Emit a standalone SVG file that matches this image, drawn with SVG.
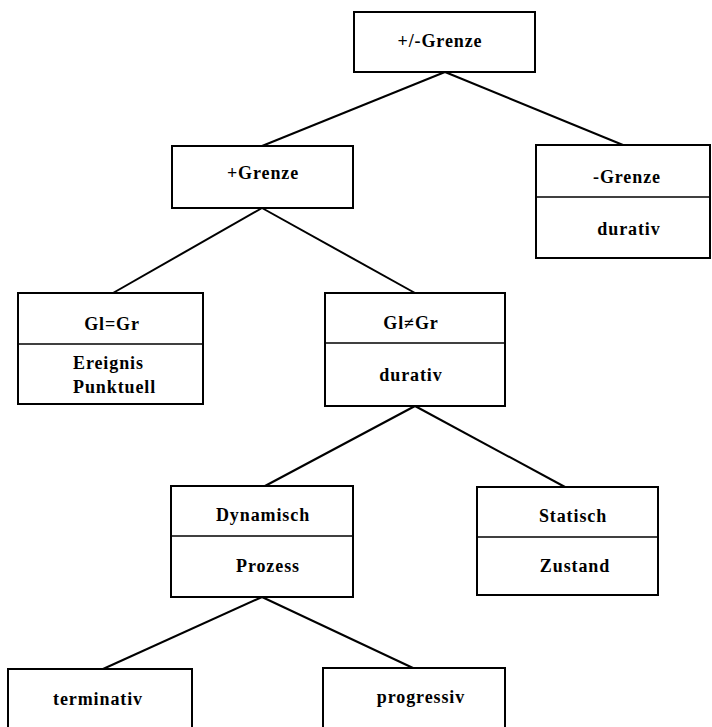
<svg xmlns="http://www.w3.org/2000/svg" width="712" height="727" viewBox="0 0 712 727">
<style>
.box{fill:#fff;stroke:#000;stroke-width:2}
.sep{stroke:#000;stroke-width:1.6}
.edge{stroke:#000;stroke-width:2;fill:none}
text{font-family:"Liberation Serif","Times New Roman",serif;font-weight:bold;font-size:18px;letter-spacing:0.9px;fill:#000}
.c{text-anchor:middle}
</style>
<rect width="712" height="727" fill="#fff"/>
<g id="connectors">
<line class="edge" x1="445" y1="72" x2="262" y2="146"/>
<line class="edge" x1="445" y1="72" x2="623" y2="145"/>
<line class="edge" x1="262" y1="208" x2="113" y2="293"/>
<line class="edge" x1="262" y1="208" x2="415" y2="293"/>
<line class="edge" x1="415" y1="406" x2="265" y2="486"/>
<line class="edge" x1="415" y1="406" x2="565" y2="487"/>
<line class="edge" x1="262" y1="597" x2="103" y2="669"/>
<line class="edge" x1="262" y1="597" x2="413" y2="668"/>
</g>
<g id="n_root">
<rect class="box" x="354" y="12" width="181" height="60"/>
<text class="c" x="440" y="47">+/-Grenze</text>
</g>
<g id="n_plus">
<rect class="box" x="172" y="146" width="181" height="62"/>
<text class="c" x="263" y="179">+Grenze</text>
</g>
<g id="n_minus">
<rect class="box" x="536" y="145" width="174" height="113"/>
<line class="sep" x1="536" y1="197" x2="710" y2="197"/>
<text class="c" x="627" y="183">-Grenze</text>
<text class="c" x="629" y="235">durativ</text>
</g>
<g id="n_gleq">
<rect class="box" x="18" y="293" width="185" height="111"/>
<line class="sep" x1="18" y1="344" x2="203" y2="344"/>
<text class="c" x="112" y="330">Gl=Gr</text>
<text x="73" y="369">Ereignis</text>
<text x="73" y="393">Punktuell</text>
</g>
<g id="n_glneq">
<rect class="box" x="325" y="293" width="180" height="113"/>
<line class="sep" x1="325" y1="343" x2="505" y2="343"/>
<text class="c" x="411" y="329">Gl≠Gr</text>
<text class="c" x="411" y="381">durativ</text>
</g>
<g id="n_dyn">
<rect class="box" x="171" y="486" width="182" height="111"/>
<line class="sep" x1="171" y1="536" x2="353" y2="536"/>
<text class="c" x="263" y="521">Dynamisch</text>
<text class="c" x="268" y="572">Prozess</text>
</g>
<g id="n_stat">
<rect class="box" x="477" y="487" width="181" height="108"/>
<line class="sep" x1="477" y1="537" x2="658" y2="537"/>
<text class="c" x="573" y="522">Statisch</text>
<text class="c" x="575" y="572">Zustand</text>
</g>
<g id="n_term">
<rect class="box" x="8" y="669" width="184" height="80"/>
<text class="c" x="98" y="705">terminativ</text>
</g>
<g id="n_prog">
<rect class="box" x="323" y="668" width="182" height="80"/>
<text class="c" x="421" y="703">progressiv</text>
</g>
</svg>
